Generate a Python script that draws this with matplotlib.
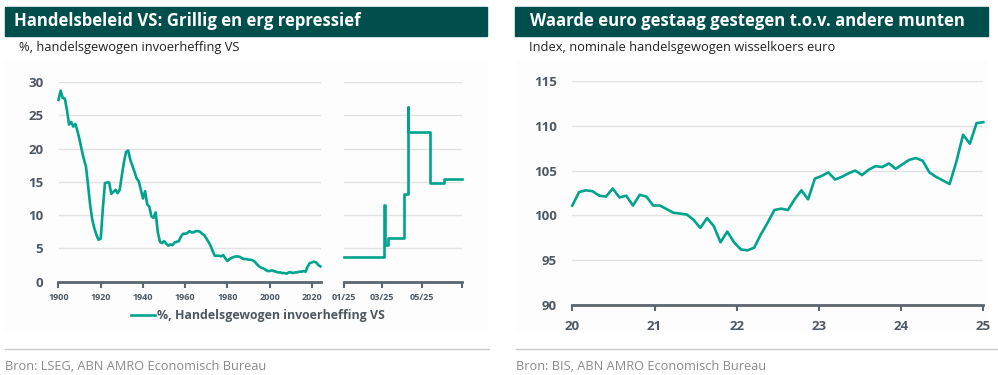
import matplotlib
matplotlib.use('Agg')
import matplotlib.pyplot as plt
from matplotlib.patches import Rectangle
from matplotlib.lines import Line2D
import numpy as np
import datetime as dt

plt.rcParams['font.family'] = ['Open Sans', 'DejaVu Sans']

# --- data ---
years = list(range(1900, 2025))
tariff = [27.3, 28.7, 27.6, 27.5, 25.8, 23.6, 24.0, 23.3, 23.7, 22.6,
          21.3, 19.8, 18.4, 17.3, 14.5, 11.5, 9.3, 8.0, 7.0, 6.3,
          6.5, 11.0, 14.8, 14.9, 14.9, 13.2, 13.5, 13.8, 13.3, 13.8,
          16.0, 18.0, 19.5, 19.7, 18.3, 17.4, 16.5, 15.5, 15.1, 13.8,
          12.5, 13.6, 11.6, 11.3, 9.8, 9.6, 10.4, 7.5, 6.0, 5.8,
          6.1, 5.7, 5.4, 5.6, 5.5, 5.9, 6.0, 6.1, 6.8, 7.2,
          7.2, 7.3, 7.6, 7.4, 7.4, 7.6, 7.6, 7.5, 7.2, 7.0,
          6.5, 6.0, 5.4, 4.6, 3.9, 3.9, 3.9, 3.8, 4.0, 3.5,
          3.1, 3.4, 3.6, 3.7, 3.8, 3.8, 3.7, 3.5, 3.4, 3.4,
          3.3, 3.3, 3.2, 3.0, 2.6, 2.3, 2.1, 2.0, 1.8, 1.6,
          1.6, 1.7, 1.6, 1.5, 1.4, 1.4, 1.3, 1.3, 1.2, 1.4,
          1.4, 1.3, 1.4, 1.4, 1.5, 1.5, 1.6, 1.5, 2.3, 2.8,
          2.9, 3.0, 2.9, 2.5, 2.3]

dates_2025 = ['2025-01-01', '2025-03-04', '2025-03-05', '2025-03-10', '2025-04-03',
              '2025-04-09', '2025-04-10', '2025-05-14', '2025-06-04', '2025-07-01']
tariff_2025 = [3.7, 11.5, 5.5, 6.6, 13.2, 26.2, 22.5, 14.8, 15.5, 15.5]

euro_index = [101.1, 102.6, 102.8, 102.7, 102.2, 102.1, 103.0, 102.0, 102.2, 101.1,
              102.3, 102.1, 101.1, 101.1, 100.7, 100.3, 100.2, 100.1, 99.5, 98.6,
              99.7, 98.8, 97.0, 98.2, 97.0, 96.2, 96.1, 96.4, 97.9, 99.2,
              100.6, 100.75, 100.6, 101.8, 102.8, 101.8, 104.1, 104.4, 104.8, 104.0,
              104.3, 104.7, 105.0, 104.5, 105.1, 105.5, 105.4, 105.8, 105.2, 105.7,
              106.2, 106.4, 106.1, 104.8, 104.3, 103.9, 103.5, 106.0, 109.0, 108.0,
              110.3, 110.4]
euro_x = np.linspace(20, 25, len(euro_index))

TEAL = '#00A38D'
DARK = '#004F4D'
AXC = '#5b6670'
LBL = '#4d5862'
GRID = '#e2e2e2'

W, H = 998, 375
fig = plt.figure(figsize=(W / 100, H / 100), dpi=100)


def box(x0, y0, x1, y1):
    return [x0 / W, 1 - y1 / H, (x1 - x0) / W, (y1 - y0) / H]


def style(ax):
    for s in ['top', 'right', 'left']:
        ax.spines[s].set_visible(False)
    ax.spines['bottom'].set_color(AXC)
    ax.spines['bottom'].set_linewidth(2)
    ax.grid(axis='y', color=GRID, linewidth=1)
    ax.set_axisbelow(True)
    ax.tick_params(axis='y', length=0, pad=11, labelsize=9.5, labelcolor=LBL)
    ax.tick_params(axis='x', length=4, width=1.5, color=AXC, labelcolor=LBL)
    for t in ax.get_yticklabels():
        t.set_fontweight('bold')
    ax.set_facecolor('none')


# background panels and title bars
for x0, x1 in [(5, 487), (515, 988)]:
    fig.patches.append(Rectangle((x0 / W, 1 - 330 / H), (x1 - x0) / W, 270 / H,
                                 transform=fig.transFigure, color='#fdfdfd', zorder=-10))
    fig.patches.append(Rectangle((x0 / W, 1 - 35.5 / H), (x1 - x0) / W, 28.5 / H,
                                 transform=fig.transFigure, color=DARK, zorder=-5))
for x0, x1 in [(5, 489), (516, 998)]:
    fig.add_artist(Line2D([x0 / W, x1 / W], [1 - 349 / H, 1 - 349 / H],
                          transform=fig.transFigure, color='#c8c8c8', lw=1))

fig.text(14 / W, 1 - 21.5 / H, 'Handelsbeleid VS: Grillig en erg repressief',
         color='white', fontsize=12.1, fontweight='bold', va='center')
fig.text(530 / W, 1 - 21.5 / H, 'Waarde euro gestaag gestegen t.o.v. andere munten',
         color='white', fontsize=12.1, fontweight='bold', va='center')
fig.text(19 / W, 1 - 47.5 / H, '%, handelsgewogen invoerheffing VS',
         color='#222222', fontsize=9.3, va='center')
fig.text(529 / W, 1 - 47.5 / H, 'Index, nominale handelsgewogen wisselkoers euro',
         color='#222222', fontsize=9.3, va='center')
fig.text(5 / W, 1 - 366 / H, 'Bron: LSEG, ABN AMRO Economisch Bureau',
         color='#8a8a8a', fontsize=9.2, va='center')
fig.text(516 / W, 1 - 366 / H, 'Bron: BIS, ABN AMRO Economisch Bureau',
         color='#8a8a8a', fontsize=9.2, va='center')

# left panel: history
ax1 = fig.add_axes(box(58.5, 82, 321, 281.7))
ln, = ax1.plot(years, tariff, color=TEAL, lw=1.9, clip_on=False)
ax1.set_xlim(1900, 2024.3)
ax1.set_ylim(0, 30)
ax1.set_yticks(range(0, 31, 5))
ax1.set_xticks(range(1900, 2021, 20))
style(ax1)
ax1.tick_params(axis='x', labelsize=6.5, pad=4)
for t in ax1.get_xticklabels():
    t.set_fontweight('bold')

# left panel: 2025 daily
ax2 = fig.add_axes(box(344, 82, 461.5, 281.7))
d25 = [dt.datetime.strptime(d, '%Y-%m-%d') for d in dates_2025]
ax2.step(d25, tariff_2025, where='post', color=TEAL, lw=1.9, clip_on=False)
ax2.set_xlim(dt.datetime(2025, 1, 1), dt.datetime(2025, 7, 1))
ax2.set_ylim(0, 30)
ax2.set_yticks(range(0, 31, 5))
ax2.set_yticklabels([])
ticks25 = [dt.datetime(2025, m, 1) for m in (1, 3, 5, 7)]
ax2.set_xticks(ticks25)
ax2.set_xticklabels(['01/25', '03/25', '05/25', ''])
style(ax2)
ax2.tick_params(axis='x', labelsize=6.5, pad=4)
for t in ax2.get_xticklabels():
    t.set_fontweight('bold')

leg = fig.legend([ln], ['%, Handelsgewogen invoerheffing VS'], loc='center',
                 bbox_to_anchor=(258 / W, 1 - 316 / H), frameon=False,
                 handlelength=1.9, handletextpad=0.15, fontsize=8.9, labelcolor=LBL)
for t in leg.get_texts():
    t.set_fontweight('bold')

# right panel: euro index
ax3 = fig.add_axes(box(572.3, 81, 983.3, 305))
ax3.plot(euro_x, euro_index, color=TEAL, lw=1.9, clip_on=False)
ax3.set_xlim(20, 25)
ax3.set_ylim(90, 115)
ax3.set_yticks(range(90, 116, 5))
ax3.set_xticks(range(20, 26))
style(ax3)
ax3.tick_params(axis='x', labelsize=9.5, pad=7)
for t in ax3.get_xticklabels():
    t.set_fontweight('bold')

fig.savefig('out.png', dpi=100)
